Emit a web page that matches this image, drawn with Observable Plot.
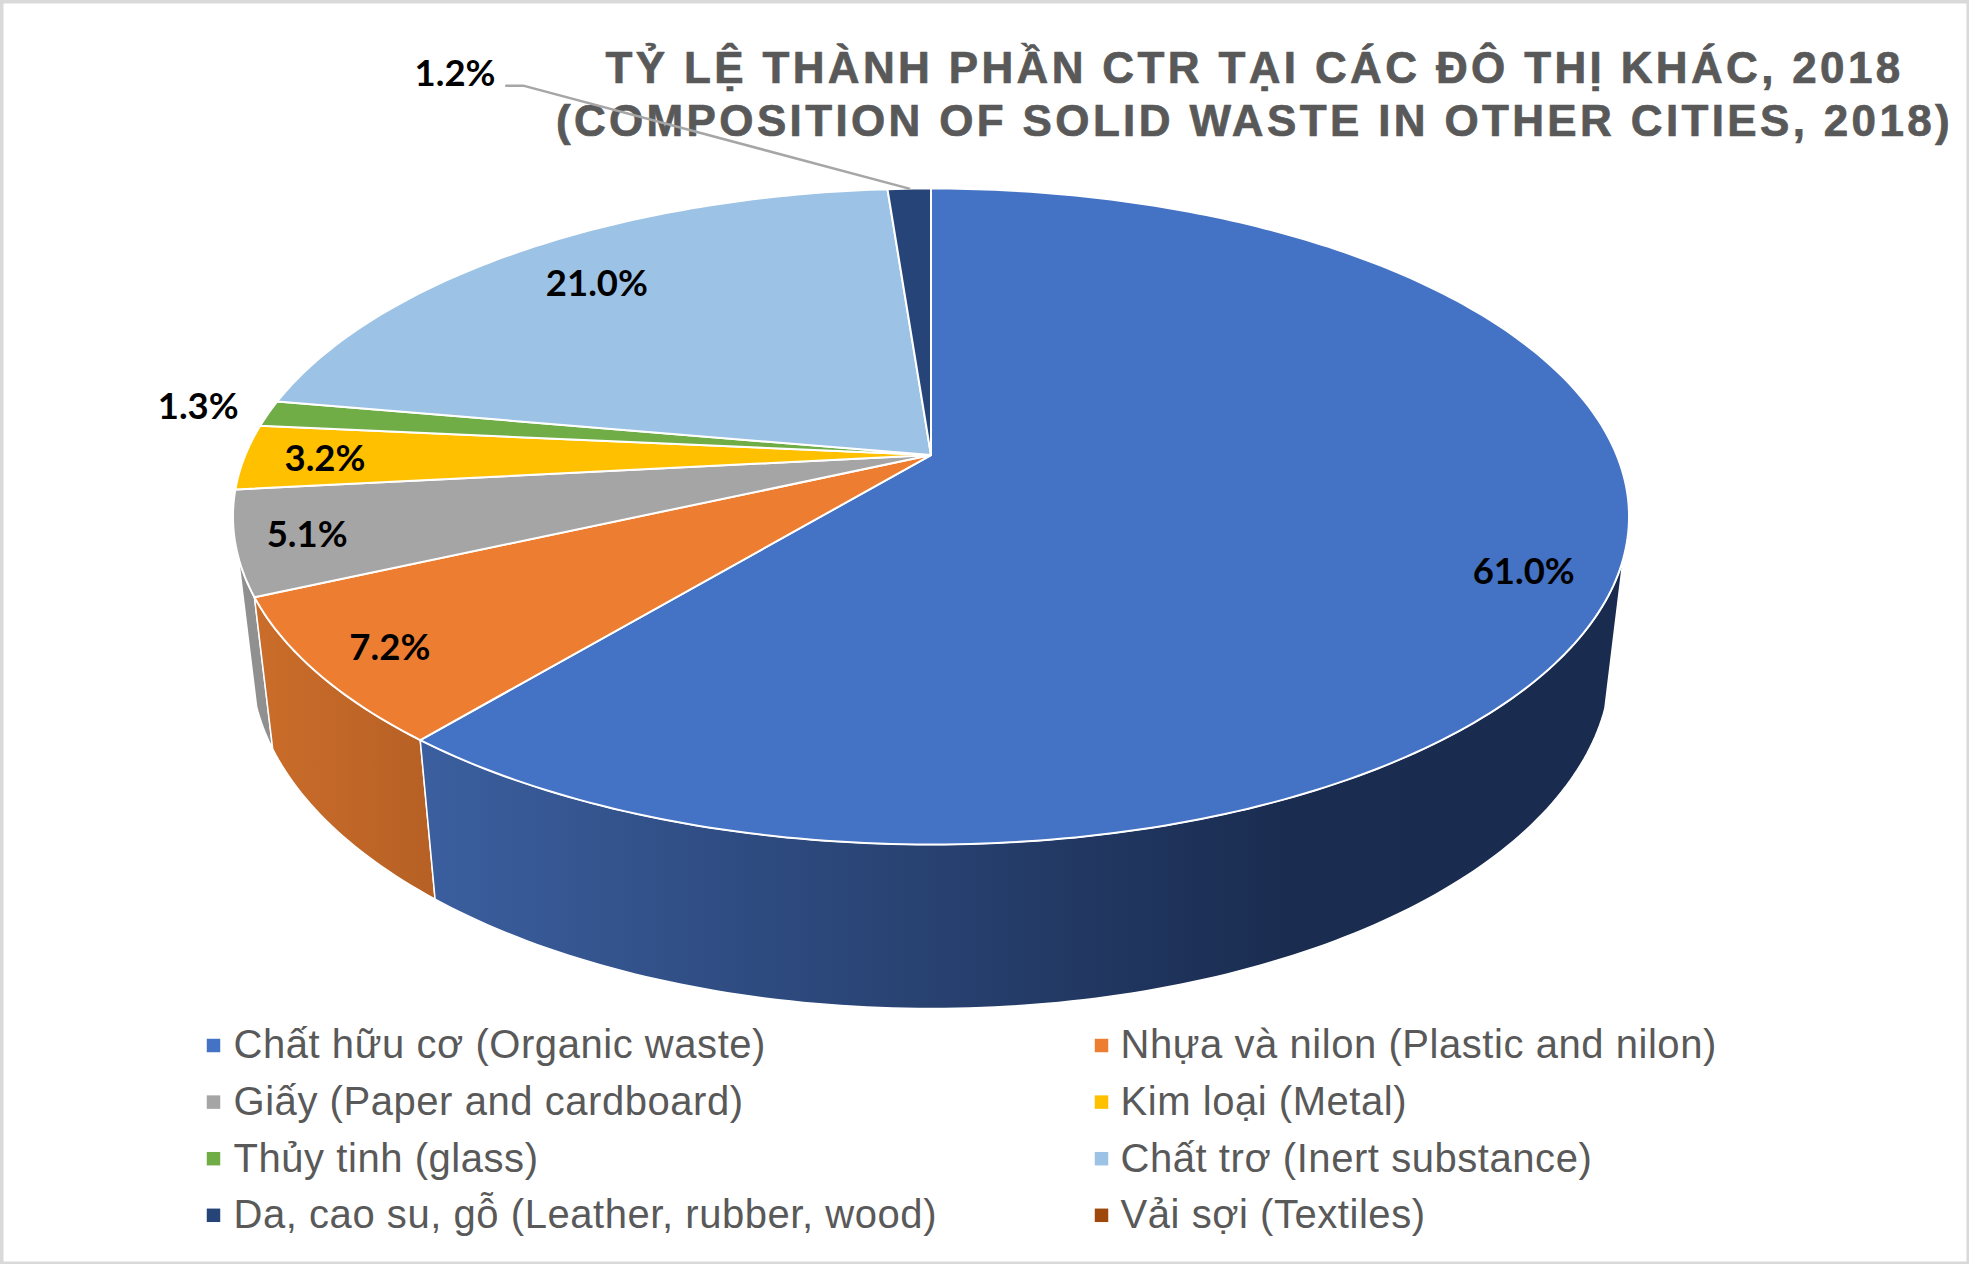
<!DOCTYPE html>
<html>
<head>
<meta charset="utf-8">
<script src="https://cdn.jsdelivr.net/npm/d3@7"></script>
<script src="https://cdn.jsdelivr.net/npm/@observablehq/plot@0.6"></script>
<style>
html,body{margin:0;padding:0;background:#fff;}
svg{display:block;}
</style>
</head>
<body>
<div id="chart"></div>
<script>
// ---- data ----
const categories = [
  "Chất hữu cơ (Organic waste)", "Nhựa và nilon (Plastic and nilon)",
  "Giấy (Paper and cardboard)", "Kim loại (Metal)",
  "Thủy tinh (glass)", "Chất trơ (Inert substance)",
  "Da, cao su, gỗ (Leather, rubber, wood)", "Vải sợi (Textiles)"
];
const values = [61.0, 7.2, 5.1, 3.2, 1.3, 21.0, 1.2, 0];
const colors = ["#4472c4", "#ed7d31", "#a5a5a5", "#ffc000", "#70ad47", "#9cc2e5", "#264478", "#9e480e"];
const titleLines = ["TỶ LỆ THÀNH PHẦN CTR TẠI CÁC ĐÔ THỊ KHÁC, 2018", "(COMPOSITION OF SOLID WASTE IN OTHER CITIES, 2018)"];

// ---- layout ----
const W = 1969, H = 1264;
const cx = 930.5, cy = 454.6, R = 685.7, D = 316.5, k = 0.1872;  // perspective of the disc
const e = 147.5, f = 0.0256;                                     // extrusion of the disc
const silhouetteRight = 30, silhouetteLeft = 70.1;               // where the side wall turns out of sight
const labelNudge = [[49,27],[-62,24],[-73,11],[-57,3],[-200,-14],[-3,-2],[-458,-161]];

// pie percent (clockwise from north) -> page position
function project(pct, r = 1, down = 0) {
  const t = pct / 100 * 2 * Math.PI;
  const u = r * Math.sin(t), v = -r * Math.cos(t);
  const w = 1 - k * v + down * f;
  return {x: cx + R * u / w, y: cy + (D * v + down * e) / w};
}
function rim(a, b, down = 0) {
  const n = Math.max(2, Math.ceil((b - a) * 4));
  return d3.range(n + 1).map(i => project(a + (b - a) * i / n, 1, down));
}

let acc = 0;
const slices = categories.map((name, i) => {
  const s = {name, value: values[i], start: acc, end: acc + values[i], i};
  acc += values[i];
  return s;
}).filter(s => s.value > 0);

const topPoints = slices.flatMap(s =>
  [{...project(0, 0), name: s.name}, ...rim(s.start, s.end).map(p => ({...p, name: s.name}))]);

function sidePoints(a, b) {
  return [...rim(a, b), ...rim(a, b, 1).reverse()];
}
const [organic, plastic, paper] = slices;
const organicSide = sidePoints(silhouetteRight, organic.end);
const plasticSide = sidePoints(plastic.start, plastic.end);
const paperSide = sidePoints(paper.start, silhouetteLeft);

const labels = slices.map((s, i) => {
  const p = project((s.start + s.end) / 2, 0.8);
  return {text: s.value.toFixed(1) + "%", x: p.x + labelNudge[i][0], y: p.y + labelNudge[i][1]};
});

const lead = project((slices[6].start + slices[6].end) / 2);
const leader = [lead, {x: lead.x - 386, y: lead.y - 103}, {x: lead.x - 403, y: lead.y - 103}];

const legend = categories.map((name, i) => ({
  name,
  sx: i % 2 ? 1101 : 213,
  tx: i % 2 ? 1120 : 233,
  y: 1045 + Math.floor(i / 2) * 56.6
}));

const titleData = titleLines.map((text, i) => ({text, x: 1254, y: 68 + i * 53}));

const defs = () => {
  const d = d3.create("svg:defs");
  d.html(`
   <linearGradient id="sideBlue" x1="0" x2="1" y1="0" y2="0">
     <stop offset="0" stop-color="#3b5f9f"/><stop offset="0.72" stop-color="#1a2c50"/><stop offset="1" stop-color="#192b4f"/>
   </linearGradient>
   <linearGradient id="sideOrange" x1="0" x2="1" y1="0" y2="0">
     <stop offset="0" stop-color="#cb6d2a"/><stop offset="1" stop-color="#b66025"/>
   </linearGradient>`);
  return d.node();
};

const side = (pts, fill) => Plot.line(pts, {x: "x", y: "y", fill, stroke: "white", strokeWidth: 1.5, curve: "linear-closed"});

const chart = Plot.plot({
  width: W, height: H,
  margin: 0,
  x: {domain: [0, W], range: [0, W], axis: null},
  y: {domain: [0, H], range: [0, H], axis: null},
  color: {domain: categories, range: colors},
  style: {background: "#fff"},
  marks: [
    defs,
    side(paperSide, "#909090"),
    side(plasticSide, "url(#sideOrange)"),
    side(organicSide, "url(#sideBlue)"),
    Plot.line(topPoints, {x: "x", y: "y", z: "name", fill: "name", stroke: "white", strokeWidth: 2, curve: "linear-closed"}),
    Plot.text(titleData, {x: "x", y: "y", text: "text", fill: "#595959", stroke: "#595959", strokeWidth: 0.7, fontSize: 44, fontWeight: "bold", fontFamily: "Liberation Sans", textAnchor: "middle", lineAnchor: "middle"}),
    Plot.line(leader, {x: "x", y: "y", stroke: "#a6a6a6", strokeWidth: 2.5}),
    Plot.text(labels, {x: "x", y: "y", text: "text", fill: "#000", fontSize: 36.5, fontWeight: "bold", fontFamily: "Lato", textAnchor: "middle", lineAnchor: "middle"}),
    Plot.dot(legend, {x: "sx", y: "y", fill: "name", symbol: "square", r: 7.6}),
    Plot.text(legend, {x: "tx", y: "y", text: "name", fill: "#595959", fontSize: 40, fontFamily: "Liberation Sans", textAnchor: "start", lineAnchor: "middle"}),
    Plot.frame({stroke: "#d9d9d9", strokeWidth: 6})
  ]
});
d3.select(chart).selectAll("text").each(function () {
  const t = this.textContent;
  if (titleLines.includes(t)) this.style.letterSpacing = "3.35px";
  else if (categories.includes(t)) this.style.letterSpacing = "0.55px";
});
document.getElementById("chart").appendChild(chart);
</script>
</body>
</html>
